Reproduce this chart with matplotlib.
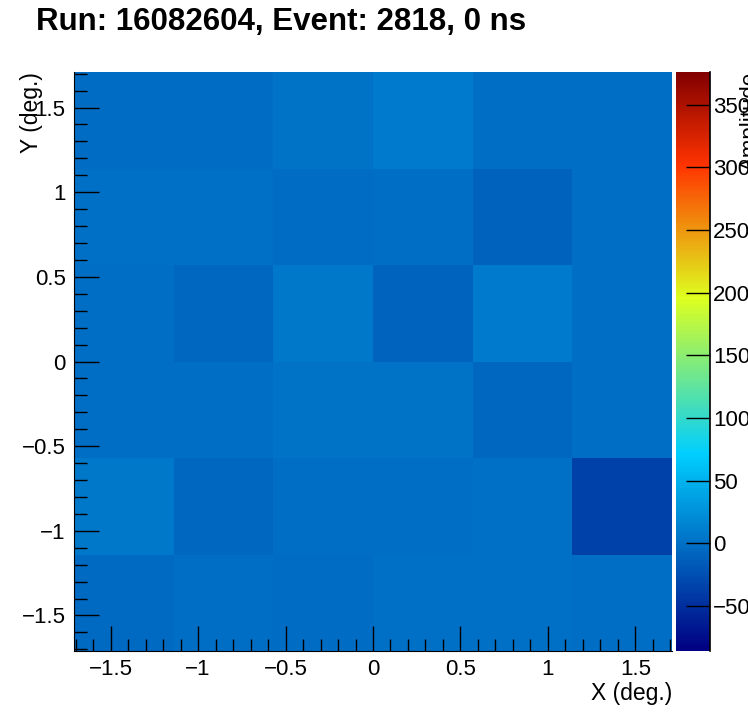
import numpy as np
import matplotlib
matplotlib.use("Agg")
import matplotlib.pyplot as plt
from matplotlib.colors import LinearSegmentedColormap
from matplotlib.ticker import MultipleLocator

plt.rcParams['font.family'] = ['Liberation Sans', 'DejaVu Sans']

# bin edges (deg.)
x_edges = np.linspace(-1.71, 1.71, 7)
y_edges = np.linspace(-1.71, 1.71, 7)

# amplitudes, rows from bottom (y=-1.43) to top (y=1.43)
row_m143 = [-5, -1, -4, 0, 0, -2.5]
row_m086 = [5, -7, -2.5, -2.5, 0, -37]
row_m029 = [-1, -2.5, 1.5, 1, -7, -2.5]
row_p029 = [-1, -7, 5, -8.5, 8, -1]
row_p086 = [0, 0, -4, -2.5, -10, -2.5]
row_p143 = [-4, -4, 1.5, 7, -1, -2.5]
amp = np.array([row_m143, row_m086, row_m029, row_p029, row_p086, row_p143])

zmin, zmax = -86, 376
cb_ticks = [-50, 0, 50, 100, 150, 200, 250, 300, 350]

# palette stops
stops = [0.00, 0.34, 0.61, 0.84, 1.00]
red = [0.00, 0.00, 0.87, 1.00, 0.51]
green = [0.00, 0.81, 1.00, 0.20, 0.00]
blue = [0.51, 1.00, 0.12, 0.00, 0.00]
cmap = LinearSegmentedColormap.from_list(
    "pal", list(zip(stops, zip(red, green, blue))), N=255)


def fmt(v, p):
    return ('%g' % v).replace('-', '\u2212')


fig = plt.figure(figsize=(7.48, 7.24), dpi=100)
ax = fig.add_axes([74/748, 73/724, 598/748, 579/724])
cax = fig.add_axes([676/748, 73/724, 34/748, 579/724])

mesh = ax.pcolormesh(x_edges, y_edges, amp, cmap=cmap, vmin=zmin, vmax=zmax)
ax.set_xlim(x_edges[0], x_edges[-1])
ax.set_ylim(y_edges[0], y_edges[-1])

for s in ['top', 'right']:
    ax.spines[s].set_visible(False)
ax.xaxis.set_major_locator(MultipleLocator(0.5))
ax.xaxis.set_minor_locator(MultipleLocator(0.1))
ax.yaxis.set_major_locator(MultipleLocator(0.5))
ax.yaxis.set_minor_locator(MultipleLocator(0.1))
ax.tick_params(which='both', direction='in', labelsize=16, width=1)
ax.tick_params(which='major', length=18, pad=6)
ax.tick_params(which='minor', length=9)
ax.xaxis.set_major_formatter(plt.FuncFormatter(fmt))
ax.yaxis.set_major_formatter(plt.FuncFormatter(fmt))

ax.set_xlabel("X (deg.)", fontsize=16.5, loc='right', labelpad=1)
ax.set_ylabel("Y (deg.)", fontsize=16.5, loc='top')
ax.yaxis.set_label_coords(-0.052, 1.0)

cb = fig.colorbar(mesh, cax=cax, ticks=cb_ticks)
cb.outline.set_visible(False)
cax.plot([1, 1], [0, 1], transform=cax.transAxes, color='k', lw=1.2, clip_on=False)
cax.tick_params(direction='in', length=17, width=1, labelsize=16, pad=2)
cax.yaxis.set_major_formatter(plt.FuncFormatter(fmt))
cax.minorticks_off()

fig.text(750/748, 652/724, "Amplitude", rotation=90, fontsize=16,
         ha='center', va='top')

fig.text(36/748, 1 - 30/724, "Run: 16082604, Event: 2818, 0 ns",
         fontsize=22.5, fontweight='bold', ha='left', va='baseline')

fig.savefig("out.png", dpi=100)
